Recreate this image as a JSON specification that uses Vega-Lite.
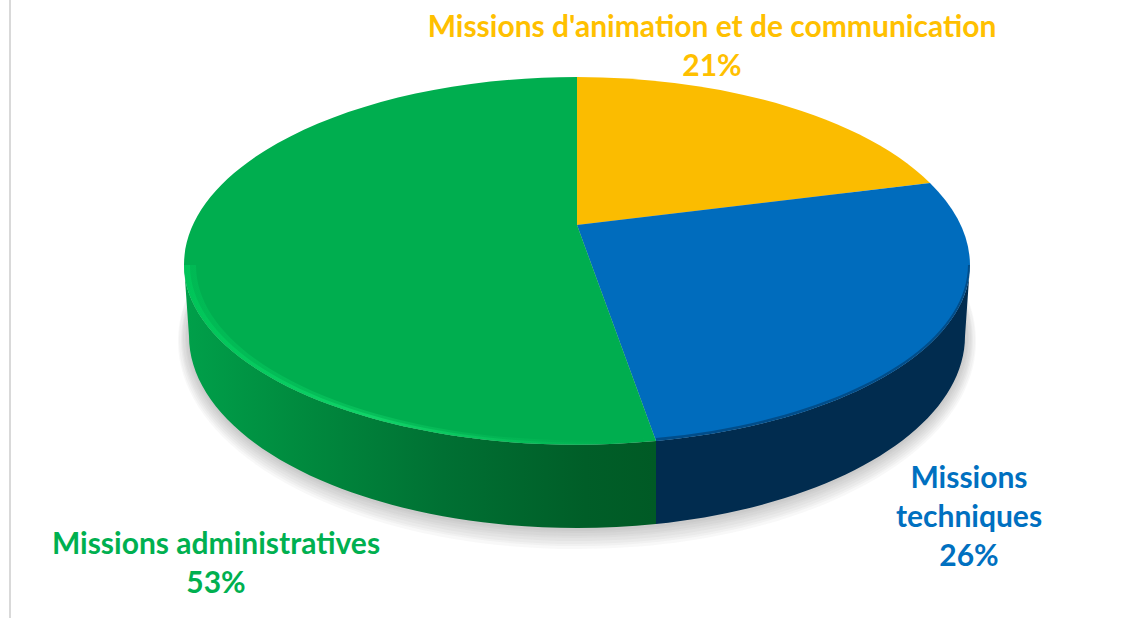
{
  "$schema": "https://vega.github.io/schema/vega-lite/v6.json",
  "width": 1130,
  "height": 618,
  "padding": 0,
  "autosize": {"type": "none"},
  "background": "white",
  "config": {"view": {"stroke": null}},
  "datasets": {
    "slices": [
      {"category": "Missions d'animation et de communication", "share": 21, "label": "Missions d'animation et de communication\n21%"},
      {"category": "Missions techniques", "share": 26, "label": "Missions\ntechniques\n26%"},
      {"category": "Missions administratives", "share": 53, "label": "Missions administratives\n53%"}
    ],
    "decor": [
      {"part": "frame"}
    ],
    "shadow": [
      {"level": 1}, {"level": 2}, {"level": 3}, {"level": 4}, {"level": 5}, {"level": 6}, {"level": 7}, {"level": 8}
    ]
  },
  "layer": [
    {
      "data": {"name": "decor"},
      "mark": {"type": "point", "filled": true, "size": 4, "opacity": 1, "fill": "#d9d9d9", "stroke": null},
      "encoding": {
        "shape": {"field": "part", "type": "nominal", "legend": null,
          "scale": {"domain": ["frame"], "range": ["M-556,-309L-554,-309L-554,310L-556,310Z"]}}
      }
    },
    {
      "data": {"name": "shadow"},
      "mark": {"type": "point", "filled": true, "size": 4, "opacity": 0.04, "fill": "#555555", "stroke": null},
      "encoding": {
        "shape": {"field": "level", "type": "nominal", "legend": null,
          "scale": {"domain": [1, 2, 3, 4, 5, 6, 7, 8], "range": [
            "M-377,28A389,194 0 1 0 401,28A389,194 0 1 0 -377,28Z",
            "M-379,28A391,196 0 1 0 403,28A391,196 0 1 0 -379,28Z",
            "M-380,29A392,198 0 1 0 404,29A392,198 0 1 0 -380,29Z",
            "M-382,29A394,200 0 1 0 406,29A394,200 0 1 0 -382,29Z",
            "M-383,30A395,202 0 1 0 407,30A395,202 0 1 0 -383,30Z",
            "M-384,31A396,204 0 1 0 408,31A396,204 0 1 0 -384,31Z",
            "M-386,31A398,206 0 1 0 410,31A398,206 0 1 0 -386,31Z",
            "M-387,32A399,208 0 1 0 411,32A399,208 0 1 0 -387,32Z"
          ]}}
      }
    },
    {
      "data": {"name": "slices"},
      "transform": [{"filter": "datum.share == 53"}],
      "mark": {"type": "point", "filled": true, "size": 4, "opacity": 1, "stroke": null,
        "fill": {"gradient": "linear", "x1": 0, "y1": 0, "x2": 1, "y2": 0, "stops": [
          {"offset": 0, "color": "#00a04a"},
          {"offset": 0.25, "color": "#008a3e"},
          {"offset": 0.55, "color": "#007033"},
          {"offset": 0.85, "color": "#005e28"},
          {"offset": 1, "color": "#005a25"}
        ]}},
      "encoding": {
        "shape": {"field": "category", "type": "nominal", "legend": null,
          "scale": {"domain": ["Missions administratives"], "range": ["M-381,-44L-376,27A388,192 0 0 0 91,215L91,132A393,180 0 0 1 -381,-44Z"]}}
      }
    },
    {
      "data": {"name": "slices"},
      "transform": [{"filter": "datum.share == 26"}],
      "mark": {"type": "point", "filled": true, "size": 4, "opacity": 1, "stroke": null, "fill": "#012c4f"},
      "encoding": {
        "shape": {"field": "category", "type": "nominal", "legend": null,
          "scale": {"domain": ["Missions techniques"], "range": ["M91,132L91,215A388,192 0 0 0 400,27L405,-44A393,180 0 0 1 91,132Z"]}}
      }
    },
    {
      "data": {"name": "slices"},
      "mark": {"type": "point", "filled": true, "size": 4, "opacity": 1, "stroke": null},
      "encoding": {
        "shape": {"field": "category", "type": "nominal", "legend": null,
          "scale": {
            "domain": ["Missions d'animation et de communication", "Missions techniques", "Missions administratives"],
            "range": [
              "M12,-84L12,-232A393,188 0 0 1 365,-126Z",
              "M12,-84L365,-126A393,188 0 0 1 405,-44A393,180 0 0 1 91,132Z",
              "M12,-84L91,132A393,180 0 0 1 -381,-44A393,188 0 0 1 12,-232Z"
            ]}},
        "fill": {"field": "category", "type": "nominal", "legend": null,
          "scale": {
            "domain": ["Missions d'animation et de communication", "Missions techniques", "Missions administratives"],
            "range": ["#fbbc00", "#006cbd", "#00ae4f"]}}
      }
    },
    {
      "data": {"name": "slices"},
      "transform": [{"filter": "datum.share == 26"}],
      "mark": {"type": "point", "filled": true, "size": 4, "opacity": 0.55, "stroke": null, "fill": "#013560"},
      "encoding": {
        "shape": {"field": "category", "type": "nominal", "legend": null,
          "scale": {"domain": ["Missions techniques"], "range": ["M405,-44A393,180 0 0 1 91,132L91,129A390,177 0 0 0 403,-44Z"]}}
      }
    },
    {
      "data": {"name": "slices"},
      "transform": [{"filter": "datum.share == 53"}],
      "mark": {"type": "point", "filled": true, "size": 4, "opacity": 0.4, "stroke": null,
        "fill": {"gradient": "linear", "x1": 0, "y1": 0, "x2": 1, "y2": 0, "stops": [
          {"offset": 0, "color": "rgba(0,205,92,0.9)"},
          {"offset": 0.4, "color": "rgba(20,220,110,0.9)"},
          {"offset": 0.75, "color": "rgba(10,200,95,0.5)"},
          {"offset": 1, "color": "rgba(0,174,79,0)"}
        ]}},
      "encoding": {
        "shape": {"field": "category", "type": "nominal", "legend": null,
          "scale": {"domain": ["Missions administratives"], "range": ["M-381,-44A393,180 0 0 0 91,132L91,128A384,175 0 0 1 -369,-44Z"]}}
      }
    },
    {
      "data": {"name": "slices"},
      "transform": [{"filter": "datum.share == 53"}],
      "mark": {"type": "point", "filled": true, "size": 4, "opacity": 0.8, "stroke": null,
        "fill": {"gradient": "linear", "x1": 0, "y1": 0, "x2": 1, "y2": 0, "stops": [
          {"offset": 0, "color": "rgba(0,205,92,0.7)"},
          {"offset": 0.4, "color": "rgba(20,220,110,0.9)"},
          {"offset": 0.75, "color": "rgba(10,200,95,0.5)"},
          {"offset": 1, "color": "rgba(0,174,79,0)"}
        ]}},
      "encoding": {
        "shape": {"field": "category", "type": "nominal", "legend": null,
          "scale": {"domain": ["Missions administratives"], "range": ["M-381,-44A393,180 0 0 0 91,132L91,130A389,177 0 0 1 -375,-44Z"]}}
      }
    },
    {
      "data": {"name": "slices"},
      "transform": [{"filter": "datum.share == 21"}],
      "mark": {"type": "text", "font": "Lato", "fontWeight": "bold", "fontSize": 30, "lineHeight": 39, "lineBreak": "\n", "align": "center", "baseline": "middle", "dx": 147, "dy": -281, "fill": "#ffc000"},
      "encoding": {"text": {"field": "label", "type": "nominal"}}
    },
    {
      "data": {"name": "slices"},
      "transform": [{"filter": "datum.share == 26"}],
      "mark": {"type": "text", "font": "Lato", "fontWeight": "bold", "fontSize": 30, "lineHeight": 39, "lineBreak": "\n", "align": "center", "baseline": "middle", "dx": 404, "dy": 170, "fill": "#0070c0"},
      "encoding": {"text": {"field": "label", "type": "nominal"}}
    },
    {
      "data": {"name": "slices"},
      "transform": [{"filter": "datum.share == 53"}],
      "mark": {"type": "text", "font": "Lato", "fontWeight": "bold", "fontSize": 30, "lineHeight": 39, "lineBreak": "\n", "align": "center", "baseline": "middle", "dx": -349, "dy": 236, "fill": "#00b050"},
      "encoding": {"text": {"field": "label", "type": "nominal"}}
    }
  ],
  "resolve": {"scale": {"shape": "independent", "fill": "independent"}}
}
